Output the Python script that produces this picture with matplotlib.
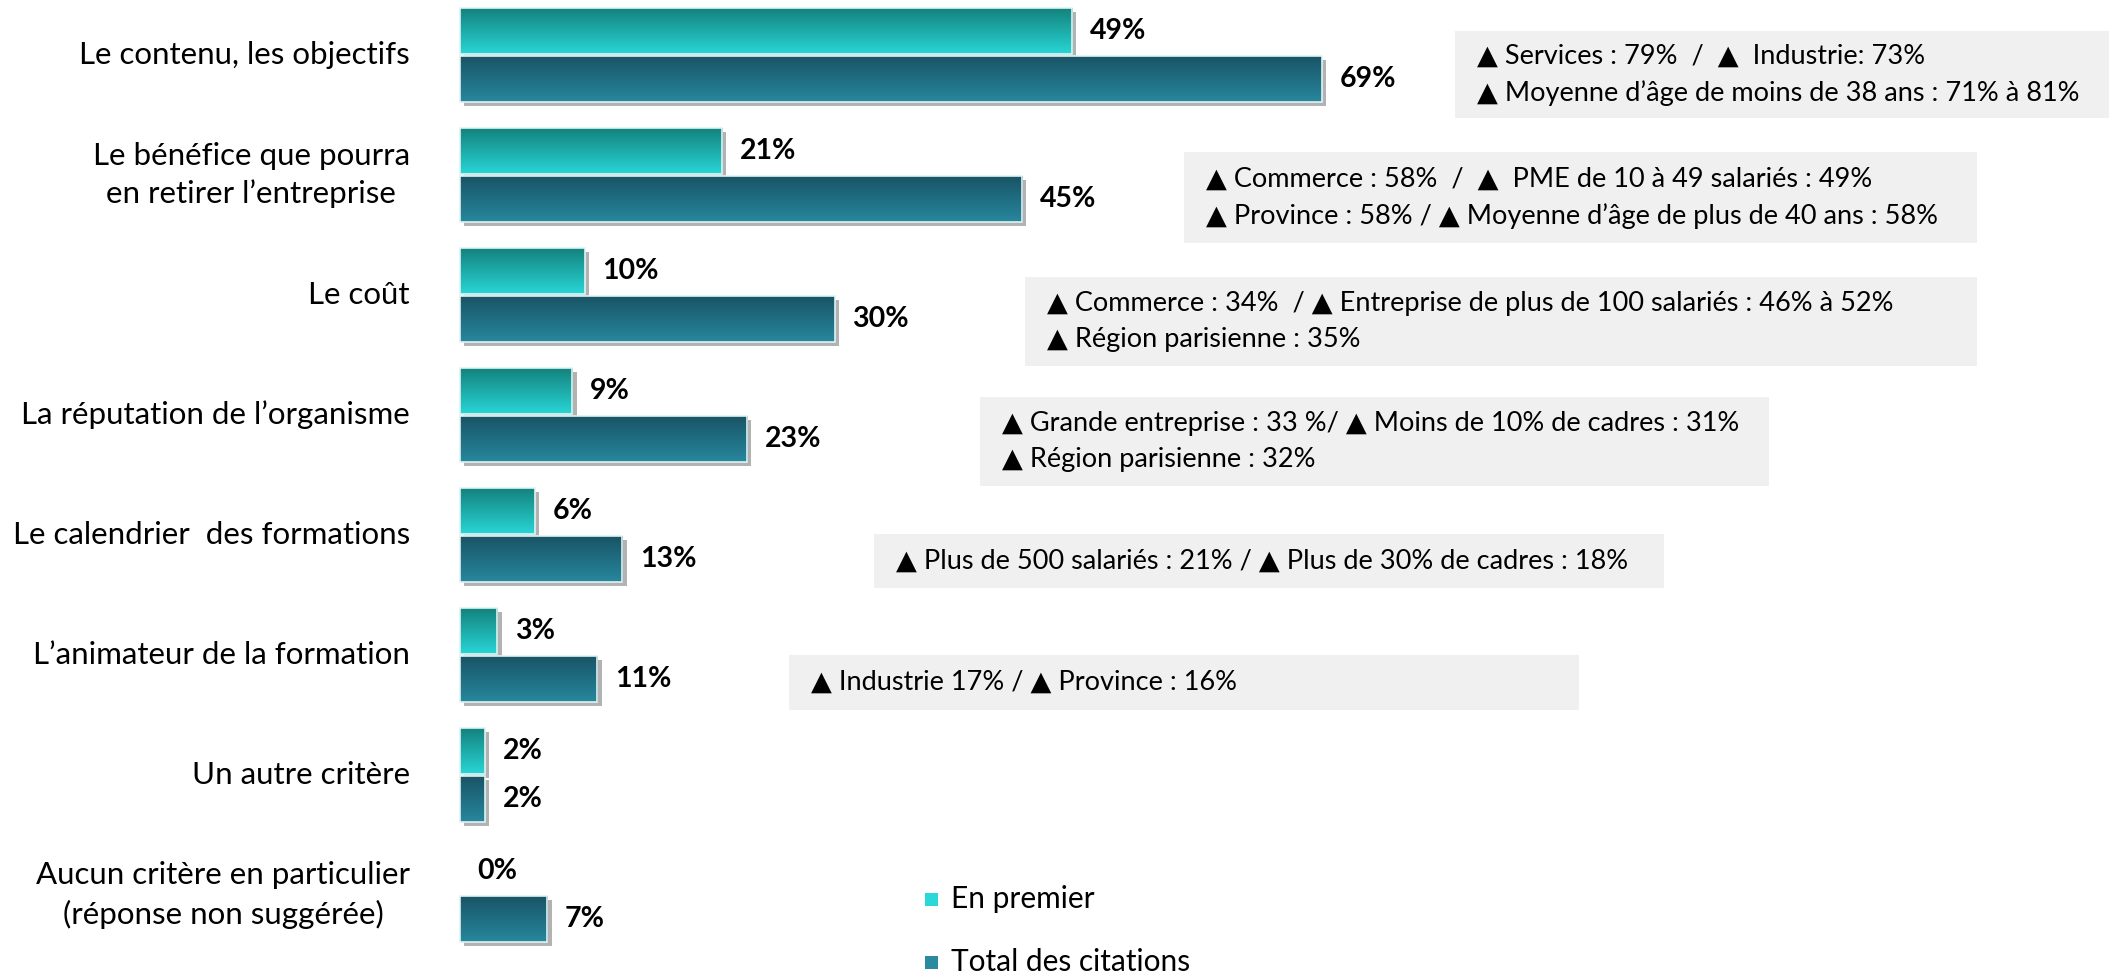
import numpy as np
import matplotlib.pyplot as plt
from matplotlib.patches import Rectangle
import matplotlib.patheffects as pe

W, H = 2109, 974

categories = ["Le contenu, les objectifs",
              "Le bénéfice que pourra\nen retirer l’entreprise",
              "Le coût",
              "La réputation de l’organisme",
              "Le calendrier  des formations",
              "L’animateur de la formation",
              "Un autre critère",
              "Aucun critère en particulier\n(réponse non suggérée)"]
en_premier = [49, 21, 10, 9, 6, 3, 2, 0]
total = [69, 45, 30, 23, 13, 11, 2, 7]
series_names = ["En premier", "Total des citations"]

notes = [
    "▲ Services : 79%  /  ▲  Industrie: 73%\n▲ Moyenne d’âge de moins de 38 ans : 71% à 81%",
    "▲ Commerce : 58%  /  ▲  PME de 10 à 49 salariés : 49%\n▲ Province : 58% / ▲ Moyenne d’âge de plus de 40 ans : 58%",
    "▲ Commerce : 34%  / ▲ Entreprise de plus de 100 salariés : 46% à 52%\n▲ Région parisienne : 35%",
    "▲ Grande entreprise : 33 %/ ▲ Moins de 10% de cadres : 31%\n▲ Région parisienne : 32%",
    "▲ Plus de 500 salariés : 21% / ▲ Plus de 30% de cadres : 18%",
    "▲ Industrie 17% / ▲ Province : 16%",
]
# note boxes in pixels: left, top, right, bottom
note_boxes = [(1455, 31, 2115, 118), (1184, 152, 1977, 243), (1025, 277, 1977, 366),
              (980, 397, 1769, 486), (874, 534, 1664, 588), (789, 655, 1579, 710)]

FONT = ["Lato", "DejaVu Sans"]
plt.rcParams["font.family"] = FONT

teal_grad = ("#14837e", "#27d5d5")
dark_grad = ("#195466", "#27879e")
teal_leg = "#2ad8d8"
dark_leg = "#2a8ba0"

fig = plt.figure(figsize=(W / 100, H / 100), dpi=100)
ax = fig.add_axes([0, 0, 1, 1])
ax.axis("off")

px_per_pct = 12.49
x0 = 460
ax.set_xlim(-x0 / px_per_pct, (W - x0) / px_per_pct)
ax.set_ylim((H - 55) / 120, -55 / 120)

y = np.arange(len(categories))
h = 0.38


def gradient_bars(values, offset, colors):
    bars = ax.barh(y + offset, values, height=h, color=colors[1], zorder=2,
                   path_effects=[pe.SimplePatchShadow(offset=(3, -3), shadow_rgbFace="#555555", alpha=0.45),
                                 pe.Normal()])
    outlines = ax.barh(y + offset, values, height=h, fill=False, edgecolor="#dff3f3",
                       linewidth=1.2, zorder=4)
    c0 = np.array(plt.matplotlib.colors.to_rgb(colors[0]))
    c1 = np.array(plt.matplotlib.colors.to_rgb(colors[1]))
    t = np.linspace(0, 1, 64)[:, None, None]
    grad = c0 * (1 - t) + c1 * t
    for b, o in zip(bars, outlines):
        bx, by = b.get_x(), b.get_y()
        bw, bh = b.get_width(), b.get_height()
        if bw <= 0:
            b.set_visible(False)
            o.set_visible(False)
            continue
        im = ax.imshow(grad, extent=(bx, bx + bw, by + bh, by), origin="upper",
                       aspect="auto", zorder=3, interpolation="bilinear")
        im.set_clip_path(b)
    for yi, v in zip(y + offset, values):
        ax.text(v + 1.4, yi, f"{v}%", va="center", ha="left", fontsize=20.5,
                fontweight="bold", color="black", zorder=5)


gradient_bars(en_premier, -0.2, teal_grad)
gradient_bars(total, 0.2, dark_grad)

for yi, lab in zip(y, categories):
    ax.text(-50 / px_per_pct, yi, lab, ha="right", va="center", multialignment="center",
            fontsize=22.5, linespacing=1.42)

for txt, (l, t, r, b) in zip(notes, note_boxes):
    fig.patches.append(Rectangle((l / W, 1 - b / H), (r - l) / W, (b - t) / H,
                                 transform=fig.transFigure, facecolor="#f0f0f0",
                                 edgecolor="none", zorder=0))
    fig.text((l + 22) / W, 1 - (t + b) / 2 / H, txt, ha="left", va="center",
             fontsize=19.5, linespacing=1.55)

# legend
for i, (name, col) in enumerate(zip(series_names, [teal_leg, dark_leg])):
    ty = 899 + i * 63
    fig.patches.append(Rectangle((925 / W, 1 - (ty + 7) / H), 13 / W, 13 / H,
                                 transform=fig.transFigure, facecolor=col, edgecolor="none"))
    fig.text(951 / W, 1 - ty / H, name, ha="left", va="center", fontsize=21.5)

fig.savefig("out.png", dpi=100)
